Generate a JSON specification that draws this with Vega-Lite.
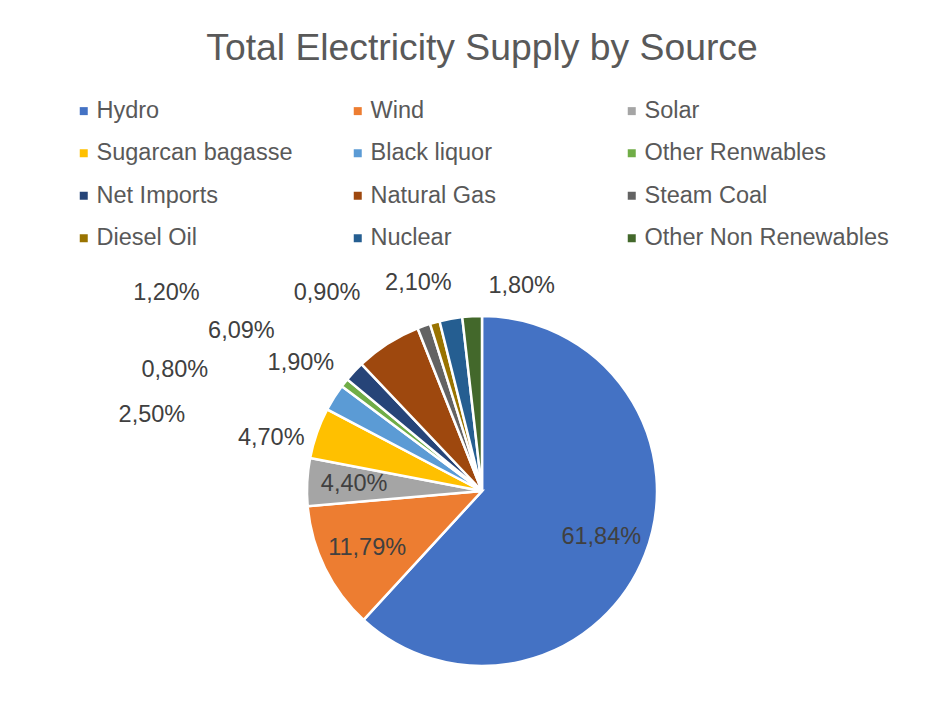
{
  "$schema": "https://vega.github.io/schema/vega-lite/v6.json",
  "autosize": "none",
  "width": 924,
  "height": 462,
  "padding": {"left": 20, "top": 260, "right": 0, "bottom": 0},
  "background": "white",
  "title": {
    "text": "Total Electricity Supply by Source",
    "frame": "group",
    "anchor": "middle",
    "font": "Liberation Sans",
    "fontSize": 37.3,
    "fontWeight": "normal",
    "color": "#595959",
    "baseline": "alphabetic",
    "offset": 2
  },
  "data": {
    "values": [
      {"source": "Hydro", "value": 61.84, "label": "61,84%", "order": 1},
      {"source": "Wind", "value": 11.79, "label": "11,79%", "order": 2},
      {"source": "Solar", "value": 4.40, "label": "4,40%", "order": 3},
      {"source": "Sugarcan bagasse", "value": 4.70, "label": "4,70%", "order": 4},
      {"source": "Black liquor", "value": 2.50, "label": "2,50%", "order": 5},
      {"source": "Other Renwables", "value": 0.80, "label": "0,80%", "order": 6},
      {"source": "Net Imports", "value": 1.90, "label": "1,90%", "order": 7},
      {"source": "Natural Gas", "value": 6.09, "label": "6,09%", "order": 8},
      {"source": "Steam Coal", "value": 1.20, "label": "1,20%", "order": 9},
      {"source": "Diesel Oil", "value": 0.90, "label": "0,90%", "order": 10},
      {"source": "Nuclear", "value": 2.10, "label": "2,10%", "order": 11},
      {"source": "Other Non Renewables", "value": 1.80, "label": "1,80%", "order": 12}
    ]
  },
  "encoding": {
    "theta": {"field": "value", "type": "quantitative", "stack": true},
    "order": {"field": "order", "type": "quantitative"}
  },
  "layer": [
    {
      "mark": {"type": "arc", "outerRadius": 175, "stroke": "white", "strokeWidth": 2.5},
      "encoding": {
        "color": {
          "field": "source",
          "type": "nominal",
          "scale": {
            "domain": ["Hydro", "Wind", "Solar", "Sugarcan bagasse", "Black liquor", "Other Renwables", "Net Imports", "Natural Gas", "Steam Coal", "Diesel Oil", "Nuclear", "Other Non Renewables"],
            "range": ["#4472C4", "#ED7D31", "#A5A5A5", "#FFC000", "#5B9BD5", "#70AD47", "#264478", "#9E480E", "#636363", "#997300", "#255E91", "#43682B"]
          },
          "legend": {
            "orient": "none",
            "legendX": 52,
            "legendY": -161,
            "direction": "horizontal",
            "columns": 3,
            "gridAlign": "all",
            "columnPadding": 5,
            "rowPadding": 17.5,
            "symbolType": "square",
            "symbolSize": 64,
            "symbolStrokeWidth": 0,
            "labelFont": "Liberation Sans",
            "labelFontSize": 23.5,
            "labelColor": "#595959",
            "labelLimit": 400,
            "labelOffset": 1,
            "title": null,
            "padding": 0
          }
        }
      }
    },
    {
      "mark": {"type": "text", "radius": 128, "font": "Liberation Sans", "fontSize": 23.5, "color": "#404040", "align": "center", "baseline": "middle"},
      "encoding": {
        "detail": {"field": "source", "type": "nominal"},
        "text": {"condition": {"test": "datum.order <= 3", "field": "label", "type": "nominal"}, "value": ""}
      }
    },
    {
      "mark": {"type": "text", "radius": 200, "dx": -22, "dy": 13, "font": "Liberation Sans", "fontSize": 23.5, "color": "#404040", "align": "center", "baseline": "middle"},
      "encoding": {
        "detail": {"field": "source", "type": "nominal"},
        "text": {"condition": {"test": "datum.source === 'Sugarcan bagasse'", "field": "label", "type": "nominal"}, "value": ""}
      }
    },
    {
      "mark": {"type": "text", "radius": 200, "dx": -161, "dy": 31, "font": "Liberation Sans", "fontSize": 23.5, "color": "#404040", "align": "center", "baseline": "middle"},
      "encoding": {
        "detail": {"field": "source", "type": "nominal"},
        "text": {"condition": {"test": "datum.source === 'Black liquor'", "field": "label", "type": "nominal"}, "value": ""}
      }
    },
    {
      "mark": {"type": "text", "radius": 200, "dx": -150, "dy": 3, "font": "Liberation Sans", "fontSize": 23.5, "color": "#404040", "align": "center", "baseline": "middle"},
      "encoding": {
        "detail": {"field": "source", "type": "nominal"},
        "text": {"condition": {"test": "datum.source === 'Other Renwables'", "field": "label", "type": "nominal"}, "value": ""}
      }
    },
    {
      "mark": {"type": "text", "radius": 200, "dx": -35, "dy": 9, "font": "Liberation Sans", "fontSize": 23.5, "color": "#404040", "align": "center", "baseline": "middle"},
      "encoding": {
        "detail": {"field": "source", "type": "nominal"},
        "text": {"condition": {"test": "datum.source === 'Net Imports'", "field": "label", "type": "nominal"}, "value": ""}
      }
    },
    {
      "mark": {"type": "text", "radius": 200, "dx": -133, "dy": 9, "font": "Liberation Sans", "fontSize": 23.5, "color": "#404040", "align": "center", "baseline": "middle"},
      "encoding": {
        "detail": {"field": "source", "type": "nominal"},
        "text": {"condition": {"test": "datum.source === 'Natural Gas'", "field": "label", "type": "nominal"}, "value": ""}
      }
    },
    {
      "mark": {"type": "text", "radius": 200, "dx": -249, "dy": -9, "font": "Liberation Sans", "fontSize": 23.5, "color": "#404040", "align": "center", "baseline": "middle"},
      "encoding": {
        "detail": {"field": "source", "type": "nominal"},
        "text": {"condition": {"test": "datum.source === 'Steam Coal'", "field": "label", "type": "nominal"}, "value": ""}
      }
    },
    {
      "mark": {"type": "text", "radius": 200, "dx": -101, "dy": -5, "font": "Liberation Sans", "fontSize": 23.5, "color": "#404040", "align": "center", "baseline": "middle"},
      "encoding": {
        "detail": {"field": "source", "type": "nominal"},
        "text": {"condition": {"test": "datum.source === 'Diesel Oil'", "field": "label", "type": "nominal"}, "value": ""}
      }
    },
    {
      "mark": {"type": "text", "radius": 200, "dx": -28, "dy": -11, "font": "Liberation Sans", "fontSize": 23.5, "color": "#404040", "align": "center", "baseline": "middle"},
      "encoding": {
        "detail": {"field": "source", "type": "nominal"},
        "text": {"condition": {"test": "datum.source === 'Nuclear'", "field": "label", "type": "nominal"}, "value": ""}
      }
    },
    {
      "mark": {"type": "text", "radius": 200, "dx": 51, "dy": -5, "font": "Liberation Sans", "fontSize": 23.5, "color": "#404040", "align": "center", "baseline": "middle"},
      "encoding": {
        "detail": {"field": "source", "type": "nominal"},
        "text": {"condition": {"test": "datum.source === 'Other Non Renewables'", "field": "label", "type": "nominal"}, "value": ""}
      }
    }
  ],
  "config": {"view": {"stroke": null}}
}
